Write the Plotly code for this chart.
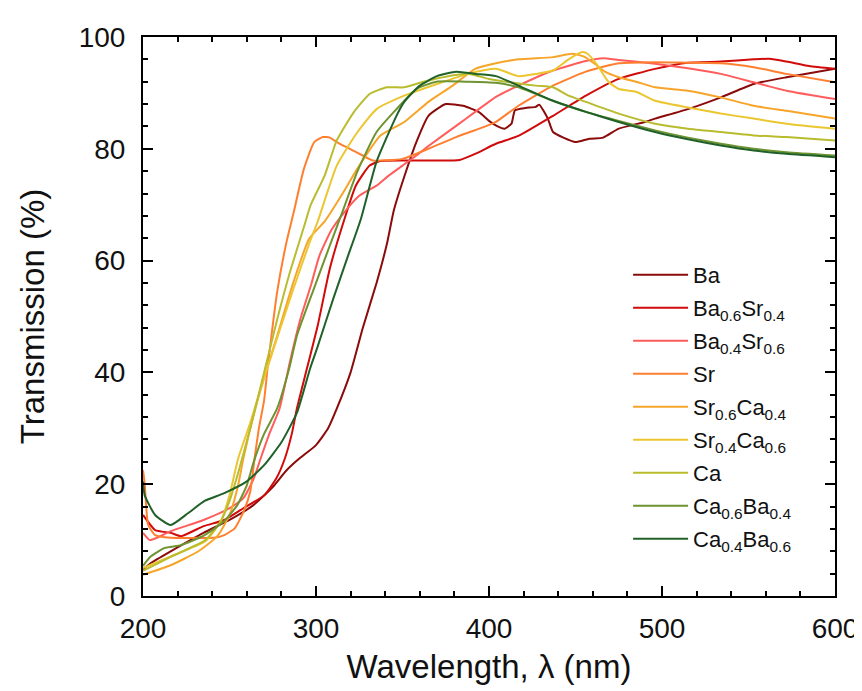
import plotly.graph_objects as go

# ---------------- data ----------------
names = ["Ba", "Ba<sub>0.6</sub>Sr<sub>0.4</sub>", "Ba<sub>0.4</sub>Sr<sub>0.6</sub>", "Sr",
         "Sr<sub>0.6</sub>Ca<sub>0.4</sub>", "Sr<sub>0.4</sub>Ca<sub>0.6</sub>", "Ca",
         "Ca<sub>0.6</sub>Ba<sub>0.4</sub>", "Ca<sub>0.4</sub>Ba<sub>0.6</sub>"]
colors = ["#8B0A0A", "#D10A0A", "#FF5C5C", "#FF7F30", "#F7A52A", "#EBC630", "#B8BC2E", "#6E9330", "#1F6128"]

wl_ba = [200, 205, 216, 235, 250, 264, 275, 283, 290, 300, 307, 312, 320, 327, 335, 341, 345, 351, 358, 365,
         375, 385, 394, 400, 405, 409, 413, 415, 421, 427, 429, 434, 437, 443, 450, 458, 466, 475, 490, 496,
         515, 534, 553, 572, 600]
t_ba = [4.8, 6.0, 8.0, 11.3, 13.6, 16.3, 19.5, 22.5, 24.5, 27.0, 30.0, 33.5, 40.0, 47.9, 56.0, 63.0, 69.0, 75.0, 81.2, 85.9,
        88.0, 87.7, 86.6, 85.0, 84.0, 83.6, 84.5, 86.9, 87.3, 87.5, 87.9, 85.4, 83.0, 82.0, 81.2, 81.8, 82.0, 83.6, 84.8, 85.4,
        87.1, 89.2, 91.6, 92.8, 94.3]

wl_basr46 = [200, 207, 216, 222, 235, 247, 258, 270, 277, 282, 286, 289, 295, 301, 308, 316, 323, 331, 337, 350,
             370, 383, 392, 404, 417, 437, 456, 475, 496, 515, 534, 553, 562, 572, 585, 600]
t_basr46 = [14.5, 11.8, 11.3, 10.7, 12.5, 13.6, 15.7, 18.0, 21.0, 24.6, 29.0, 33.6, 41.0, 48.4, 58.6, 67.0, 73.4, 77.0, 77.8, 77.9,
            77.9, 78.0, 79.1, 80.9, 82.3, 85.9, 89.5, 92.5, 94.3, 95.4, 95.6, 96.0, 96.1, 95.6, 94.8, 94.3]

wl_basr64 = [200, 204, 210, 216, 235, 250, 258, 264, 268, 273, 279, 285, 291, 297, 302, 309, 316, 325, 335, 342,
             350, 358, 365, 381, 392, 404, 417, 437, 456, 466, 475, 496, 515, 534, 553, 572, 600]
t_basr64 = [11.3, 10.0, 10.7, 11.6, 13.6, 15.7, 17.5, 21.0, 24.6, 29.0, 33.6, 42.0, 49.6, 55.5, 60.9, 65.5, 68.5, 71.6, 73.4, 75.2,
            77.0, 78.8, 80.5, 84.1, 86.6, 89.3, 91.3, 94.0, 95.7, 96.2, 95.9, 95.2, 94.4, 93.4, 91.9, 90.4, 88.9]

wl_sr = [200, 201, 203, 207, 216, 231, 241, 247, 253, 258, 262, 264.5, 267, 270, 272, 277.6, 283, 287, 293, 299,
         304, 308, 312, 319.5, 327, 333, 350, 365, 381, 398, 404, 417, 437, 456, 475, 496, 515, 534, 553, 572, 600]
t_sr = [22.5, 20.0, 12.7, 10.9, 10.4, 10.4, 10.4, 10.9, 12.1, 15.0, 18.7, 24.6, 30.0, 35.0, 40.7, 54.5, 63.4, 68.5, 76.4, 81.2,
        82.1, 82.0, 81.2, 80.0, 78.8, 77.9, 78.2, 80.0, 82.1, 84.0, 84.8, 87.7, 91.3, 93.8, 95.3, 95.5, 95.4, 95.3, 94.6, 93.4, 91.9]

wl_srca64 = [200, 216, 232, 243, 250, 255, 258, 265, 270, 277.6, 287, 296, 305, 316, 324, 337, 351, 365, 379, 392,
             404, 417, 437, 448, 455, 462, 467, 475, 485, 496, 515, 534, 553, 572, 600]
t_srca64 = [3.8, 5.5, 8.0, 10.7, 14.5, 19.8, 24.6, 33.6, 39.0, 46.6, 56.2, 63.9, 67.0, 72.3, 76.5, 82.3, 84.8, 88.4, 91.3, 94.3,
            95.3, 96.0, 96.4, 97.0, 96.5, 95.0, 93.8, 92.8, 92.0, 91.0, 90.4, 89.2, 87.7, 86.8, 85.4]

wl_srca46 = [200, 216, 236, 245, 250, 255, 262, 270, 278, 287, 296, 301, 312, 324, 335, 351, 370, 388, 404, 417,
             427, 437, 446, 454, 457, 463, 469, 475, 485, 496, 515, 534, 553, 572, 600]
t_srca46 = [5.0, 7.1, 9.8, 13.4, 18.0, 24.6, 31.0, 39.0, 46.6, 55.0, 63.0, 67.0, 77.0, 83.0, 87.1, 89.5, 91.6, 93.4, 94.3, 93.0,
            93.4, 94.0, 96.0, 97.3, 97.0, 94.8, 92.0, 90.7, 90.2, 88.6, 87.4, 86.3, 85.4, 84.5, 83.6]

wl_ca = [200, 216, 236, 245, 250, 255, 262, 270, 278, 285, 293, 297, 305, 312, 322, 331, 341, 351, 362, 375,
         388.5, 400, 427, 437, 446, 456, 475, 496, 515, 534, 553, 572, 600]
t_ca = [4.5, 7.0, 10.0, 13.4, 17.0, 22.0, 30.0, 40.0, 50.0, 58.0, 66.0, 70.0, 75.2, 81.5, 86.6, 89.8, 91.0, 91.0, 92.0, 92.9,
        93.4, 92.5, 91.3, 91.0, 89.5, 88.4, 86.3, 84.5, 83.6, 83.0, 82.4, 82.1, 81.5]

wl_caba64 = [200, 204.6, 212.6, 222, 235.6, 247, 254.6, 260, 264, 270, 277.6, 284.5, 289, 298.8, 308, 315, 324, 335, 346.5, 358,
             369.5, 388.5, 404, 417, 437, 456, 475, 496, 515, 534, 553, 572, 600]
t_caba64 = [5.4, 7.1, 8.6, 9.1, 10.9, 13.4, 16.3, 19.8, 24.0, 29.0, 33.6, 40.7, 46.6, 55.0, 62.7, 68.5, 76.0, 83.0, 87.1, 90.7,
            92.0, 92.0, 91.8, 91.0, 88.6, 86.6, 85.0, 83.3, 82.0, 80.9, 80.0, 79.4, 78.8]

wl_caba46 = [200, 201, 207, 216, 226, 235.6, 247, 260, 270, 280, 289, 296.6, 300.6, 310, 318, 326, 335, 346.5,
             351, 360, 370, 381, 392.5, 404, 417, 437, 456, 475, 496, 515, 534, 553, 572, 600]
t_caba46 = [20.5, 18.0, 14.5, 12.7, 14.8, 17.0, 18.4, 20.5, 23.4, 27.5, 32.8, 40.7, 44.3, 53.2, 60.4, 67.5, 77.7, 85.9,
            88.4, 91.3, 93.0, 93.8, 93.4, 93.0, 91.3, 88.6, 86.6, 84.8, 83.0, 81.7, 80.6, 79.7, 79.1, 78.5]

series_x = [wl_ba, wl_basr46, wl_basr64, wl_sr, wl_srca64, wl_srca46, wl_ca, wl_caba64, wl_caba46]
series_y = [t_ba, t_basr46, t_basr64, t_sr, t_srca64, t_srca46, t_ca, t_caba64, t_caba46]

x_ticks = [200, 300, 400, 500, 600]
y_ticks = [0, 20, 40, 60, 80, 100]

# ---------------- figure ----------------
FONT = "Liberation Sans, Arial, sans-serif"
fig = go.Figure()
for i, (xs, ys) in enumerate(zip(series_x, series_y)):
    fig.add_trace(go.Scatter(
        x=xs, y=ys, mode="lines", name=names[i],
        line=dict(color=colors[i], width=2, shape="spline", smoothing=0.5),
        legendgroup=f"g{i}",
    ))

axis_common = dict(
    showline=True, linecolor="black", linewidth=2, mirror="ticks",
    ticks="inside", ticklen=10, tickwidth=2, tickcolor="black",
    showgrid=False, zeroline=False,
    tickfont=dict(family=FONT, size=28, color="#111"),
)
fig.update_xaxes(range=[200, 600], tickvals=x_ticks, ticktext=[str(v) for v in x_ticks],
                 minor=dict(ticks="inside", ticklen=5, tickwidth=1.5, dtick=20, tick0=200, tickcolor="black"),
                 title=dict(text="Wavelength, λ (nm)", font=dict(family=FONT, size=33, color="#111"), standoff=12),
                 ticklabelstandoff=6,
                 **axis_common)
fig.update_yaxes(range=[0, 100], tickvals=y_ticks, ticktext=[str(v) for v in y_ticks],
                 minor=dict(ticks="inside", ticklen=5, tickwidth=1.5, dtick=4, tick0=0, tickcolor="black"),
                 title=dict(text="Transmission (%)", font=dict(family=FONT, size=33, color="#111"), standoff=24),
                 ticklabelstandoff=10,
                 **axis_common)

fig.update_layout(
    width=862, height=691,
    margin=dict(l=135, r=31, t=29, b=103),
    paper_bgcolor="white", plot_bgcolor="white",
    font=dict(family=FONT, color="#111"),
    showlegend=True,
    legend=dict(x=0.701, y=0.612, xanchor="left", yanchor="top",
                bgcolor="rgba(0,0,0,0)", borderwidth=0,
                font=dict(family=FONT, size=22, color="#111"),
                itemwidth=55, tracegroupgap=1.4),
)

fig.write_html("out.html")
